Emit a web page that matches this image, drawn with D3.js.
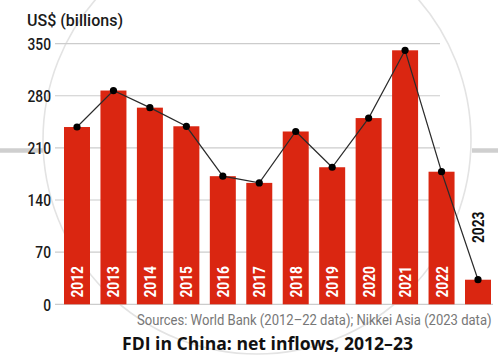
<!DOCTYPE html>
<html>
<head>
<meta charset="utf-8">
<script src="https://cdn.jsdelivr.net/npm/d3@7"></script>
<style>
  html, body { margin: 0; padding: 0; background: #fff; }
  svg { display: block; }
</style>
</head>
<body>
<script>
// ---- data ----
const years = ["2012","2013","2014","2015","2016","2017","2018","2019","2020","2021","2022","2023"];
const values = [238, 287, 264, 239, 172, 163, 232, 184, 250, 341, 178, 33];
const yTicks = [0, 70, 140, 210, 280, 350];
const yTitle = "US$ (billions)";
const sourceText = "Sources: World Bank (2012\u201322 data); Nikkei Asia (2023 data)";
const titleText = "FDI in China: net inflows, 2012\u201323";

const W = 498, H = 361;
const svg = d3.select("body").append("svg").attr("width", W).attr("height", H);

const x = d3.scaleBand().domain(years).range([64, 491]).paddingInner(0.287).paddingOuter(0);
const y = d3.scaleLinear().domain([0, 350]).range([304.3, 43.6]);

// decorative background
svg.append("circle").attr("cx", 257).attr("cy", 140).attr("r", 214)
  .attr("fill", "none").attr("stroke", "#e3e3e3").attr("stroke-width", 1.6);
svg.append("line").attr("x1", 0).attr("x2", 43).attr("y1", 150.5).attr("y2", 150.5)
  .attr("stroke", "#cfcfcf").attr("stroke-width", 4.5);
svg.append("line").attr("x1", 472).attr("x2", 498).attr("y1", 150.5).attr("y2", 150.5)
  .attr("stroke", "#cfcfcf").attr("stroke-width", 4.5);

function squeeze(sel, factor) {
  sel.each(function() {
    const n = this.getComputedTextLength();
    d3.select(this).attr("textLength", n * factor).attr("lengthAdjust", "spacingAndGlyphs");
  });
}
function fit(sel, len) {
  sel.attr("textLength", len).attr("lengthAdjust", "spacingAndGlyphs");
}
// condensed text: shrink font so natural width = len, then stretch vertically back
function condensed(g, str, fontSize, len, attrs) {
  const t = g.append("text").text(str).attr("font-size", fontSize);
  Object.entries(attrs).forEach(([k, v]) => t.attr(k, v));
  const n = t.node().getComputedTextLength();
  const f = fontSize * len / n;
  t.attr("font-size", f);
  g.attr("transform", g.attr("transform") + ` scale(1,${fontSize / f})`);
  return t;
}

// gridlines
const grid = svg.append("g");
grid.selectAll("line").data(yTicks).join("line")
  .attr("x1", 55)
  .attr("x2", d => d === 0 ? 493 : 440)
  .attr("y1", d => y(d)).attr("y2", d => y(d))
  .attr("stroke", "#cccccc").attr("stroke-width", 1.2);

// y axis labels
const yAxis = svg.append("g").attr("transform", "translate(51,0)")
  .call(d3.axisLeft(y).tickValues(yTicks).tickSize(0).tickPadding(0));
yAxis.select(".domain").remove();
yAxis.selectAll("text")
  .attr("font-family", "Roboto, sans-serif").attr("font-size", 16)
  .attr("font-weight", 500)
  .attr("fill", "#1a1a1a").attr("dy", "0.36em");
squeeze(yAxis.selectAll("text"), 0.86);

svg.append("text").attr("x", 27).attr("y", 25.5)
  .attr("font-family", "Roboto, sans-serif").attr("font-size", 17)
  .attr("font-weight", 500)
  .attr("fill", "#1a1a1a").text(yTitle)
  .call(fit, 96);

// bars
svg.append("g").selectAll("rect").data(years).join("rect")
  .attr("x", d => x(d)).attr("width", x.bandwidth())
  .attr("y", (d, i) => y(values[i]))
  .attr("height", (d, i) => y(0) - y(values[i]))
  .attr("fill", "#da2611");

// line + dots
const pts = years.map((d, i) => [x(d) + x.bandwidth() / 2, y(values[i])]);
svg.append("path").attr("d", d3.line()(pts))
  .attr("fill", "none").attr("stroke", "#2b2b2b").attr("stroke-width", 1.2);
svg.append("g").selectAll("circle").data(pts).join("circle")
  .attr("cx", d => d[0]).attr("cy", d => d[1]).attr("r", 3.6).attr("fill", "#000");

// year labels
const last = years.length - 1;
svg.append("g").selectAll("text").data(years).join("text")
  .attr("transform", (d, i) => {
    const cx = x(d) + x.bandwidth() / 2;
    const by = i === last ? 243 : 297.5;
    return `translate(${cx + 6},${by}) rotate(-90)`;
  })
  .attr("font-family", "Roboto, sans-serif").attr("font-weight", "bold").attr("font-size", 16.5)
  .attr("fill", (d, i) => i === last ? "#111" : "#fff")
  .text(d => d)
  .call(fit, 31.5);

// source & title
const srcG = svg.append("g").attr("transform", "translate(137,324.5)");
condensed(srcG, sourceText, 15, 355, { "font-family": "Roboto, sans-serif", "fill": "#777" });

svg.append("text").attr("x", 122).attr("y", 350)
  .attr("font-family", "'Open Sans', sans-serif").attr("font-weight", "bold").attr("font-size", 17.5)
  .attr("fill", "#111").text(titleText)
  .call(fit, 291);
</script>
</body>
</html>
